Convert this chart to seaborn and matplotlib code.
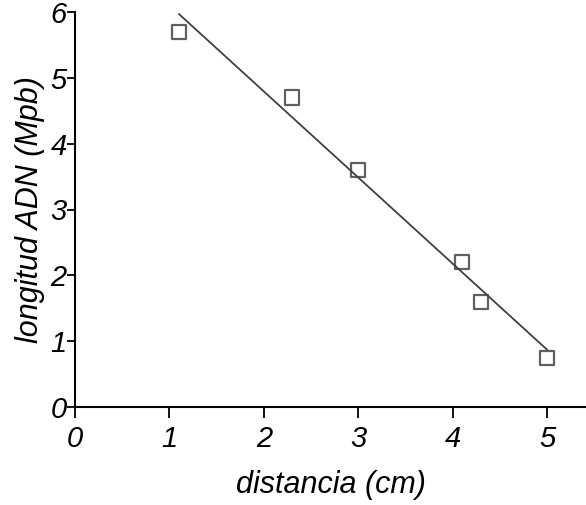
import matplotlib
matplotlib.use("Agg")
import matplotlib.pyplot as plt
import seaborn as sns
import pandas as pd

# Data
distancia = [1.1, 2.3, 3.0, 4.1, 4.3, 5.0]
longitud = [5.7, 4.7, 3.6, 2.2, 1.6, 0.75]
x_ticks = [0, 1, 2, 3, 4, 5]
y_ticks = [0, 1, 2, 3, 4, 5, 6]

df = pd.DataFrame({"distancia": distancia, "longitud": longitud})

sns.set_theme(style="ticks")
plt.rcParams["font.family"] = ["Liberation Sans", "DejaVu Sans"]

fig = plt.figure(figsize=(5.86, 5.05), dpi=100)
ax = fig.add_axes([75 / 586, 98 / 505, 511 / 586, 395 / 505])

sns.regplot(
    data=df, x="distancia", y="longitud", ax=ax, ci=None, marker="s",
    truncate=True,
    scatter_kws={"facecolors": "none", "edgecolors": "#606060", "s": 105,
                 "linewidths": 1.6, "alpha": 1, "zorder": 2},
    line_kws={"color": "#404040", "lw": 1.3, "zorder": 3},
    color="#606060",
)

ax.set_xlim(0, 5.41)
ax.set_ylim(0, 6)
ax.set_xticks(x_ticks)
ax.set_yticks(y_ticks)
ax.set_xticklabels([str(t) for t in x_ticks], fontstyle="italic", fontsize=21)
ax.set_yticklabels([str(t) for t in y_ticks], fontstyle="italic", fontsize=21)
ax.tick_params(axis="x", length=8, width=1.3, color="black", labelcolor="black", pad=5)
ax.tick_params(axis="y", length=6, width=1.3, color="black", labelcolor="black", pad=0)

for side in ["top", "right"]:
    ax.spines[side].set_visible(False)
for side in ["left", "bottom"]:
    ax.spines[side].set_color("black")
    ax.spines[side].set_linewidth(1.5)

ax.set_xlabel("distancia (cm)", fontstyle="italic", fontsize=22, labelpad=12,
              color="black")
ax.set_ylabel("longitud ADN (Mpb)", fontstyle="italic", fontsize=22, labelpad=4,
              color="black")

fig.savefig("out.png", dpi=100, facecolor="white")
